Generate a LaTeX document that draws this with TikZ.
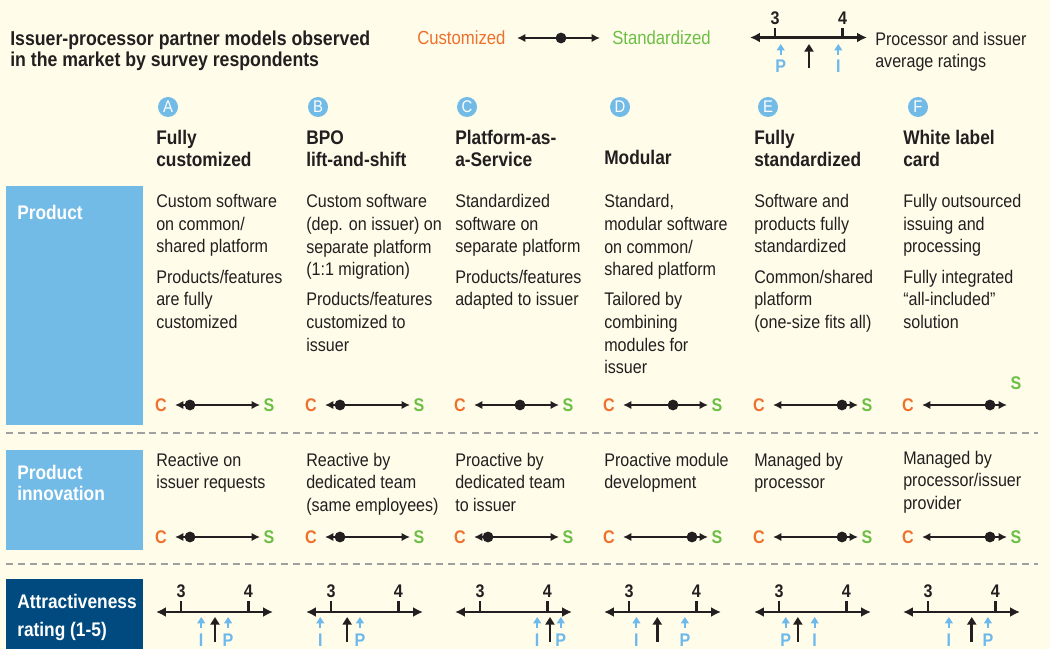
\documentclass[tikz,border=0pt]{standalone}
\usepackage{fontspec}
\setmainfont{Liberation Sans}[FakeStretch=0.88]
\usetikzlibrary{arrows.meta}

\definecolor{cream}{RGB}{255,252,234}
\definecolor{skyblue}{RGB}{114,187,231}
\definecolor{navy}{RGB}{0,74,127}
\definecolor{custorange}{RGB}{238,112,45}
\definecolor{stdgreen}{RGB}{108,190,69}
\definecolor{ink}{RGB}{35,31,32}
\definecolor{arrowblue}{RGB}{110,185,235}
\definecolor{dashgrey}{RGB}{160,160,160}

% multi-line nodes are placed by the baseline of their last line
\tikzset{
 body/.style={anchor=base west, inner sep=0pt, align=left, text=ink, font=\fontsize{13}{16.1}\selectfont},
 head/.style={body, font=\fontsize{14}{16.1}\selectfont\bfseries},
 rowlabel/.style={anchor=base west, inner sep=0pt, align=left, text=white, font=\fontsize{14}{15.2}\selectfont\bfseries},
 letter/.style={circle, fill=skyblue, text=white, inner sep=0pt, minimum size=0.5cm, font=\fontsize{12}{12}\selectfont},
 endlabel/.style={inner sep=0pt, font=\fontsize{13}{13}\selectfont\bfseries},
 cline/.style={ink, line width=1.6pt, <->, >={Latex[length=6pt,width=6pt]}},
 dot/.style={circle, fill=ink, inner sep=0pt, minimum size=0.27cm},
 rline/.style={ink, line width=1.8pt, <->, >={Latex[length=7pt,width=7pt]}},
 tick/.style={ink, line width=1.8pt},
 bluearrow/.style={arrowblue, line width=1.4pt, -{Triangle[length=4.5pt,width=5.5pt]}},
 blackarrow/.style={ink, line width=1.8pt, -{Triangle[length=5.5pt,width=6.5pt]}},
 sep/.style={dashgrey, line width=1pt, dash pattern=on 5pt off 3.5pt}
}

\begin{document}
\begin{tikzpicture}[x=0.025cm,y=-0.025cm]
 \useasboundingbox[fill=cream] (0,0) rectangle (1050,649);

 % title and legend
 \node[head, font=\fontsize{14.3}{15.4}\selectfont\bfseries] (title) at (10,66.7) {Issuer-processor partner models observed\\in the market by survey respondents};
 \node[body, text=custorange, font=\fontsize{13.5}{16}\selectfont] (custom) at (417,45) {Customized};
 \node[body, text=stdgreen, font=\fontsize{13.5}{16}\selectfont] (standard) at (612,45) {Standardized};
 \coordinate (legl) at (517,38);
 \coordinate (legr) at (600,38);
 \draw[cline] (legl) -- (legr);
 \node[dot] (legdot) at (561,38) {};
 \coordinate (rl) at (750,37.5);
 \coordinate (rr) at (867,37.5);
 \draw[rline] (rl) -- (rr);
 \node[endlabel, text=ink] (three) at (775,18.7) {3};
 \node[endlabel, text=ink] (four) at (842.7,18.7) {4};
 \draw[tick] (775,37.5) -- (775,27.7);
 \draw[tick] (842.7,37.5) -- (842.7,27.7);
 \node[endlabel, text=arrowblue] (legp) at (780.7,66.7) {P};
 \node[endlabel, text=arrowblue] (legi) at (838.3,66.7) {I};
 \draw[bluearrow] (780.7,55) -- (780.7,44);
 \draw[bluearrow] (838.3,55) -- (838.3,44);
 \draw[blackarrow] (809,67.7) -- (809,44);
 \node[body] (avg) at (875,67.7) {Processor and issuer\\average ratings};

 % row labels
 \fill[skyblue] (6,186) rectangle (143,425);
 \fill[skyblue] (6,450) rectangle (143,550);
 \fill[navy] (6,579) rectangle (143,649);
 \node[rowlabel] (product) at (17,220) {Product};
 \node[rowlabel] (innov) at (17,500.7) {Product\\innovation};
 \node[rowlabel, font=\fontsize{14}{19.6}\selectfont\bfseries] (attract) at (17,636) {Attractiveness\\rating (1-5)};

 \draw[sep] (6,433) -- (1038,433);
 \draw[sep] (6,564) -- (1038,564);

 % models
 \foreach \l/\cx in {A/168, B/318, C/467, D/620, E/768, F/918}
  \node[letter] (circ\l) at (\cx,107) {\l};

 \node[head] (headA) at (156,166.7) {Fully\\customized};
 \node[head] (headB) at (306,166.7) {BPO\\lift-and-shift};
 \node[head] (headC) at (455,166.7) {Platform-as-\\a-Service};
 \node[head] (headD) at (604,165) {Modular};
 \node[head] (headE) at (754,166.7) {Fully\\standardized};
 \node[head] (headF) at (903,166.7) {White label\\card};

 \node[body] (prodA) at (156,328.5) {Custom software\\on common/\\shared platform\\[5.4pt]Products/features\\are fully\\customized};
 \node[body] (prodB) at (306,351.2) {Custom software\\(dep. on issuer) on\\separate platform\\(1:1 migration)\\[5.4pt]Products/features\\customized to\\issuer};
 \node[body] (prodC) at (455,305.8) {Standardized\\software on\\separate platform\\[5.4pt]Products/features\\adapted to issuer};
 \node[body] (prodD) at (604,373.9) {Standard,\\modular software\\on common/\\shared platform\\[5.4pt]Tailored by\\combining\\modules for\\issuer};
 \node[body] (prodE) at (754,328.5) {Software and\\products fully\\standardized\\[5.4pt]Common/shared\\platform\\(one-size fits all)};
 \node[body] (prodF) at (903,328.5) {Fully outsourced\\issuing and\\processing\\[5.4pt]Fully integrated\\“all-included”\\solution};

 \node[body] (innA) at (156,488.7) {Reactive on\\issuer requests};
 \node[body] (innB) at (306,511.4) {Reactive by\\dedicated team\\(same employees)};
 \node[body] (innC) at (455,511.4) {Proactive by\\dedicated team\\to issuer};
 \node[body] (innD) at (604,488.7) {Proactive module\\development};
 \node[body] (innE) at (754,488.7) {Managed by\\processor};
 \node[body] (innF) at (903,509.4) {Managed by\\processor/issuer\\provider};

 % customized vs standardized scales
 \foreach \i/\x/\pd/\nd/\sy in {A/156/34/34/405, B/306/34/34/405, C/455/65/33/405,
                                D/604/69/88/405, E/754/88/88/405, F/903/87/87/383} {
  \node[endlabel, text=custorange] (pc\i) at (\x+5,405) {C};
  \node[endlabel, text=stdgreen] (ps\i) at (\x+113,\sy) {S};
  \coordinate (pl\i) at (\x+19,405);
  \coordinate (pr\i) at (\x+104,405);
  \draw[cline] (pl\i) -- (pr\i);
  \node[dot] (pd\i) at (\x+\pd,405) {};
  \node[endlabel, text=custorange] (nc\i) at (\x+5,537) {C};
  \node[endlabel, text=stdgreen] (ns\i) at (\x+113,537) {S};
  \coordinate (nl\i) at (\x+19,537);
  \coordinate (nr\i) at (\x+104,537);
  \draw[cline] (nl\i) -- (nr\i);
  \node[dot] (nd\i) at (\x+\nd,537) {};
 }

 % attractiveness ratings: issuer, average, processor
 \foreach \i/\x/\iv/\av/\pv in {A/156/3.30/3.505/3.70, B/306/2.84/3.24/3.43, C/455/3.85/4.04/4.20,
                                D/604/3.11/3.42/3.83, E/754/3.53/3.28/3.10, F/903/3.31/3.65/3.89} {
  \coordinate (al\i) at (\x,612);
  \coordinate (ar\i) at (\x+117,612);
  \draw[rline] (al\i) -- (ar\i);
  \draw[tick] (\x+25,612) -- (\x+25,601);
  \draw[tick] (\x+92.3,612) -- (\x+92.3,601);
  \node[endlabel, text=ink] (a3\i) at (\x+25,591) {3};
  \node[endlabel, text=ink] (a4\i) at (\x+92.3,591) {4};
  \draw[bluearrow] ({\x+25+67.3*(\iv-3)},628) -- ({\x+25+67.3*(\iv-3)},617);
  \node[endlabel, text=arrowblue] (ai\i) at ({\x+25+67.3*(\iv-3)},640.5) {I};
  \draw[bluearrow] ({\x+25+67.3*(\pv-3)},628) -- ({\x+25+67.3*(\pv-3)},617);
  \node[endlabel, text=arrowblue] (ap\i) at ({\x+25+67.3*(\pv-3)},640.5) {P};
  \draw[blackarrow] ({\x+25+67.3*(\av-3)},642) -- ({\x+25+67.3*(\av-3)},617);
 }
\end{tikzpicture}
\end{document}
